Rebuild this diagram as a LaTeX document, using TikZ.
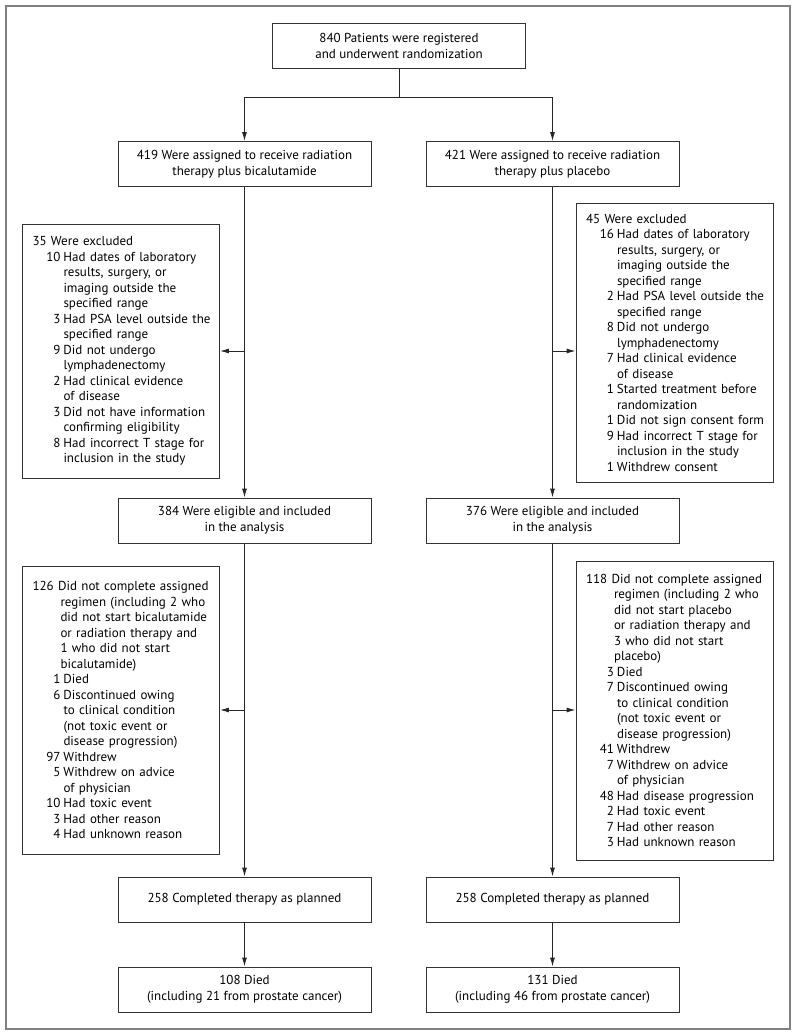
\documentclass[tikz,border=0pt]{standalone}
\usepackage{fontspec}
\setmainfont{PT Sans}
\usetikzlibrary{arrows.meta}
\tikzstyle{block} = [draw=black!80, line width=0.9pt, rectangle, minimum height=45pt, minimum width=253pt, align=center, inner sep=0pt, font=\fontsize{13pt}{16pt}\selectfont]
\tikzstyle{listbox} = [draw=black!80, line width=0.9pt, rectangle, text width=177pt, align=left, inner xsep=10pt, inner ysep=0pt]
\tikzstyle{frame} = [draw=black!50, line width=1.6pt]
\tikzstyle{link} = [black!85, line width=0.9pt]
% one numbered line, its follow-up lines, and the follow-up of a heading
\newcommand{\entry}[2]{\mbox{\makebox[28pt][r]{#1}\hspace{3pt}#2}}
\newcommand{\cont}[1]{\mbox{\hspace*{31pt}#1}}
\newcommand{\hcont}[1]{\mbox{\hspace*{28pt}#1}}

\begin{document}
\begin{tikzpicture}[x=1pt, y=-1pt, >={Latex[length=9pt,width=5pt]},
  font=\fontsize{13pt}{15.5pt}\selectfont]
 \useasboundingbox (0,0) rectangle (797,1035);
 \draw [frame] (6,6) rectangle (790,1029);
 % nodes
 \node [block] (reg) at (399,46) {840 Patients were registered\\and underwent randomization};
 \node [block] (armL) at (244.5,164) {419 Were assigned to receive radiation\\therapy plus bicalutamide};
 \node [block] (armR) at (552.5,164) {421 Were assigned to receive radiation\\therapy plus placebo};
 \node [listbox, minimum height=254pt] (exclL) at (121,351) {%
  \mbox{35 Were excluded}\\
  \entry{10}{Had dates of laboratory}\\
  \cont{results, surgery, or}\\
  \cont{imaging outside the}\\
  \cont{specified range}\\
  \entry{3}{Had PSA level outside the}\\
  \cont{specified range}\\
  \entry{9}{Did not undergo}\\
  \cont{lymphadenectomy}\\
  \entry{2}{Had clinical evidence}\\
  \cont{of disease}\\
  \entry{3}{Did not have information}\\
  \cont{confirming eligibility}\\
  \entry{8}{Had incorrect T stage for}\\
  \cont{inclusion in the study}};
 \node [listbox, minimum height=279pt] (exclR) at (674.5,342.5) {%
  \mbox{45 Were excluded}\\
  \entry{16}{Had dates of laboratory}\\
  \cont{results, surgery, or}\\
  \cont{imaging outside the}\\
  \cont{specified range}\\
  \entry{2}{Had PSA level outside the}\\
  \cont{specified range}\\
  \entry{8}{Did not undergo}\\
  \cont{lymphadenectomy}\\
  \entry{7}{Had clinical evidence}\\
  \cont{of disease}\\
  \entry{1}{Started treatment before}\\
  \cont{randomization}\\
  \entry{1}{Did not sign consent form}\\
  \entry{9}{Had incorrect T stage for}\\
  \cont{inclusion in the study}\\
  \entry{1}{Withdrew consent}};
 \node [block] (eligL) at (244.5,520.5) {384 Were eligible and included\\in the analysis};
 \node [block] (eligR) at (552.5,520.5) {376 Were eligible and included\\in the analysis};
 \node [listbox, minimum height=288pt] (regimL) at (121,710) {%
  \mbox{126 Did not complete assigned}\\
  \hcont{regimen (including 2 who}\\
  \hcont{did not start bicalutamide}\\
  \hcont{or radiation therapy and}\\
  \hcont{1 who did not start}\\
  \hcont{bicalutamide)}\\
  \entry{1}{Died}\\
  \entry{6}{Discontinued owing}\\
  \cont{to clinical condition}\\
  \cont{(not toxic event or}\\
  \cont{disease progression)}\\
  \entry{97}{Withdrew}\\
  \entry{5}{Withdrew on advice}\\
  \cont{of physician}\\
  \entry{10}{Had toxic event}\\
  \entry{3}{Had other reason}\\
  \entry{4}{Had unknown reason}};
 \node [listbox, minimum height=299pt] (regimR) at (674.5,710.5) {%
  \mbox{118 Did not complete assigned}\\
  \hcont{regimen (including 2 who}\\
  \hcont{did not start placebo}\\
  \hcont{or radiation therapy and}\\
  \hcont{3 who did not start}\\
  \hcont{placebo)}\\
  \entry{3}{Died}\\
  \entry{7}{Discontinued owing}\\
  \cont{to clinical condition}\\
  \cont{(not toxic event or}\\
  \cont{disease progression)}\\
  \entry{41}{Withdrew}\\
  \entry{7}{Withdrew on advice}\\
  \cont{of physician}\\
  \entry{48}{Had disease progression}\\
  \entry{2}{Had toxic event}\\
  \entry{7}{Had other reason}\\
  \entry{3}{Had unknown reason}};
 \node [block] (doneL) at (244.5,899.5) {258 Completed therapy as planned};
 \node [block] (doneR) at (552.5,899.5) {258 Completed therapy as planned};
 \node [block] (diedL) at (244.5,989.5) {108 Died\\(including 21 from prostate cancer)};
 \node [block] (diedR) at (552.5,989.5) {131 Died\\(including 46 from prostate cancer)};
 % branch points
 \coordinate (split) at (399,97);
 \coordinate (jL1) at (244.5,351);
 \coordinate (jR1) at (552.5,351);
 \coordinate (jL2) at (244.5,710);
 \coordinate (jR2) at (552.5,710);
 % edges
 \draw [link] (reg) -- (split);
 \draw [link, ->] (split) -| (armL);
 \draw [link, ->] (split) -| (armR);
 \draw [link, ->] (armL) -- (eligL);
 \draw [link, ->] (armR) -- (eligR);
 \draw [link, ->] (jL1) -- (jL1 -| exclL.east);
 \draw [link, ->] (jR1) -- (jR1 -| exclR.west);
 \draw [link, ->] (eligL) -- (doneL);
 \draw [link, ->] (eligR) -- (doneR);
 \draw [link, ->] (jL2) -- (jL2 -| regimL.east);
 \draw [link, ->] (jR2) -- (jR2 -| regimR.west);
 \draw [link, ->] (doneL) -- (diedL);
 \draw [link, ->] (doneR) -- (diedR);
\end{tikzpicture}
\end{document}
